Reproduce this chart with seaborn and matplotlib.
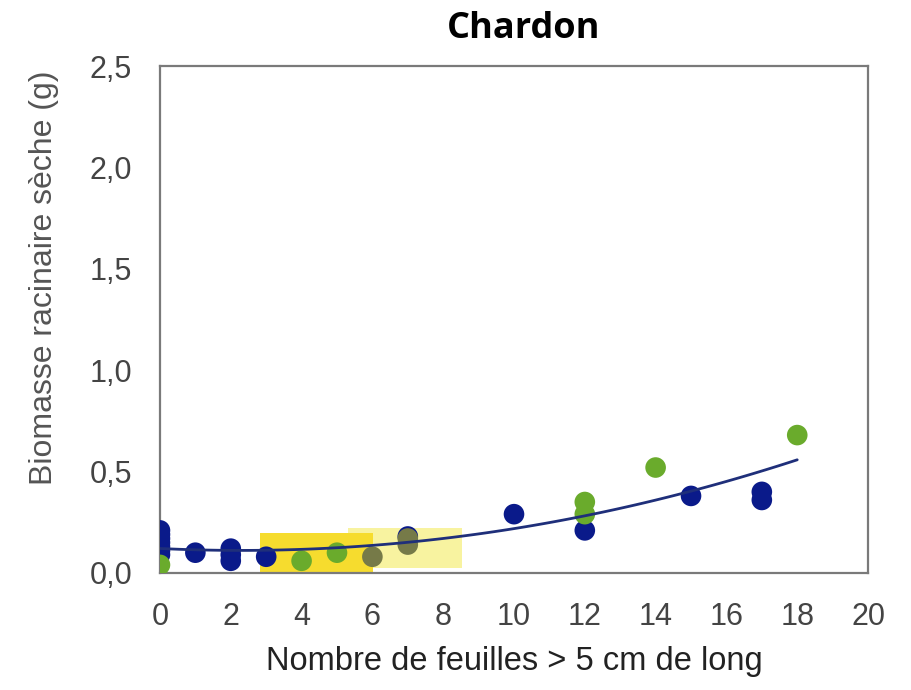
import pandas as pd
import matplotlib.pyplot as plt
import matplotlib.patches as mpatches
import seaborn as sns

# points
blue_x = [0, 0, 0, 0, 0, 0, 0, 1, 2, 2, 2, 3, 7, 10, 12, 15, 17, 17]
blue_y = [0.09, 0.11, 0.13, 0.15, 0.17, 0.19, 0.21, 0.10, 0.06, 0.09, 0.12, 0.08, 0.18, 0.29, 0.21, 0.38, 0.36, 0.40]
green_x = [0, 4, 5, 12, 12, 14, 18]
green_y = [0.04, 0.06, 0.10, 0.29, 0.35, 0.52, 0.68]
olive_x = [6, 7, 7]
olive_y = [0.08, 0.14, 0.17]

x_ticks = [0, 2, 4, 6, 8, 10, 12, 14, 16, 18, 20]
y_ticks = [0.0, 0.5, 1.0, 1.5, 2.0, 2.5]
y_tick_labels = ['0,0', '0,5', '1,0', '1,5', '2,0', '2,5']

df = pd.DataFrame({
    'x': blue_x + green_x + olive_x,
    'y': blue_y + green_y + olive_y,
    'groupe': ['a'] * len(blue_x) + ['b'] * len(green_x) + ['c'] * len(olive_x),
})

sns.set_style('white')
plt.rcParams['font.family'] = ['Liberation Sans', 'DejaVu Sans']

fig = plt.figure(figsize=(9.12, 6.9), dpi=100)
ax = fig.add_axes([0.1754, 0.1696, 0.7764, 0.7347])

# highlighted zones
ax.add_patch(mpatches.Rectangle((5.3, 0.025), 3.24, 0.195, color='#f8f3a0', lw=0, zorder=1))
ax.add_patch(mpatches.Rectangle((2.83, 0.0), 3.2, 0.197, color='#f6dc2e', lw=0, zorder=1.5))

sns.scatterplot(data=df, x='x', y='y', hue='groupe',
                palette={'a': '#0a1a8a', 'b': '#6aab2c', 'c': '#767a48'},
                s=220, edgecolor='none', legend=False, ax=ax, zorder=3)
sns.regplot(data=df, x='x', y='y', order=2, ci=None, scatter=False, truncate=True,
            line_kws={'color': '#1f2f7a', 'lw': 2}, ax=ax)
ax.lines[-1].set_zorder(4)

ax.set_xlim(0, 20)
ax.set_ylim(0, 2.5)
ax.set_xticks(x_ticks)
ax.set_yticks(y_ticks)
ax.set_yticklabels(y_tick_labels)
for sp in ax.spines.values():
    sp.set_color('#7a7a7a')
    sp.set_linewidth(1.6)
ax.tick_params(axis='both', direction='out', length=10, width=1.4, color='#555555',
               labelsize=22, labelcolor='#444444', pad=10)
ax.tick_params(axis='x', length=8, pad=13)

ax.set_xlabel('Nombre de feuilles > 5 cm de long', fontsize=23.5, color='#222222', labelpad=10)
ax.set_ylabel('Biomasse racinaire sèche (g)', fontsize=23, color='#555555')
ax.yaxis.set_label_coords(-0.142, 0.582)
ax.set_title('Chardon', fontsize=26, fontweight='bold', color='black',
             family=['Open Sans', 'DejaVu Sans'], x=0.513, pad=20)

plt.savefig('out.png', dpi=100)
